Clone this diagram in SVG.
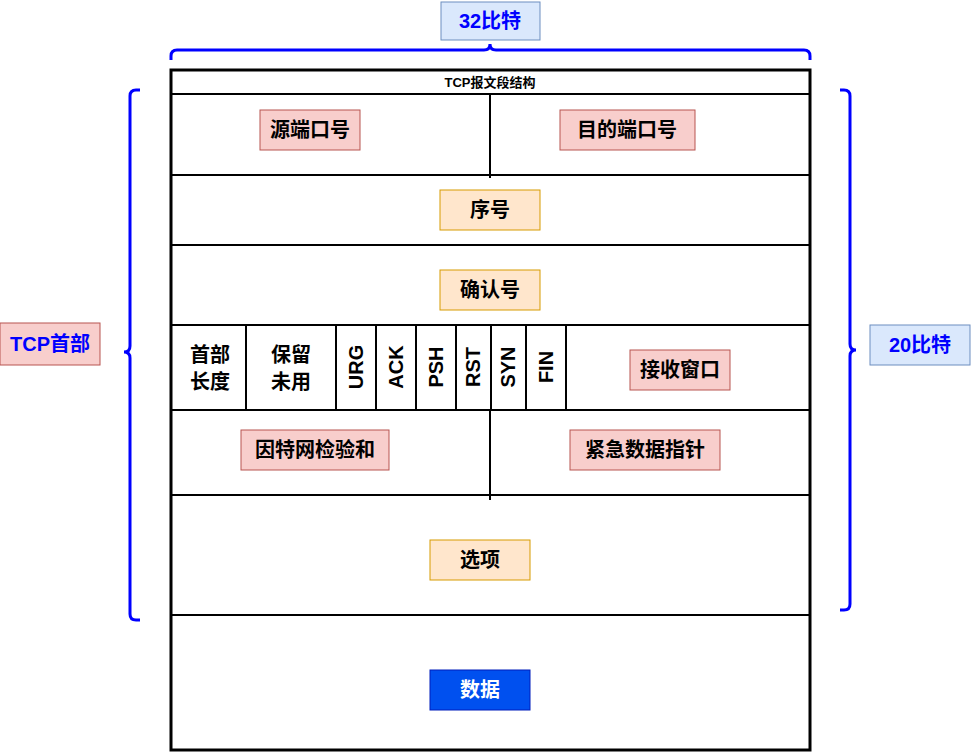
<svg xmlns="http://www.w3.org/2000/svg" width="971" height="752" viewBox="0 0 971 752">
<style>
text{font-family:"Liberation Sans","Noto Sans CJK SC",sans-serif;font-weight:bold;text-anchor:middle;dominant-baseline:central}
.l{font-size:20px;fill:#000}
.r{fill:#f8cecc;stroke:#b85450}
.o{fill:#ffe6cc;stroke:#d79b00}
.b{fill:#dae8fc;stroke:#6c8ebf}
.ln{stroke:#000;stroke-width:2;fill:none}
.br{stroke:#0000ff;stroke-width:3;fill:none}
.bl{font-size:20px;fill:#0000ff}
</style>
<rect width="971" height="752" fill="#fff"/>
<g id="frame">
<rect x="171" y="70" width="639" height="680" fill="#fff" stroke="#000" stroke-width="3"/>
<line class="ln" x1="171" y1="94" x2="810" y2="94" stroke-width="3"/>
<text x="490" y="82" font-size="13">TCP报文段结构</text>
<line class="ln" x1="171" y1="175" x2="810" y2="175"/>
<line class="ln" x1="171" y1="245" x2="810" y2="245"/>
<line class="ln" x1="171" y1="325" x2="810" y2="325"/>
<line class="ln" x1="171" y1="410" x2="810" y2="410"/>
<line class="ln" x1="171" y1="495" x2="810" y2="495"/>
<line class="ln" x1="171" y1="615" x2="810" y2="615"/>
<line class="ln" x1="490" y1="94" x2="490" y2="178"/>
<line class="ln" x1="490" y1="410" x2="490" y2="500"/>
<line class="ln" x1="246" y1="325" x2="246" y2="410"/>
<line class="ln" x1="336" y1="325" x2="336" y2="410"/>
<line class="ln" x1="376" y1="325" x2="376" y2="410"/>
<line class="ln" x1="416" y1="325" x2="416" y2="410"/>
<line class="ln" x1="456" y1="325" x2="456" y2="410"/>
<line class="ln" x1="491" y1="325" x2="491" y2="410"/>
<line class="ln" x1="526" y1="325" x2="526" y2="410"/>
<line class="ln" x1="566" y1="325" x2="566" y2="410"/>
</g>
<g id="flags">
<text class="l" x="210" y="355">首部</text><text class="l" x="210" y="382">长度</text>
<text class="l" x="291" y="355">保留</text><text class="l" x="291" y="382">未用</text>
<text class="l" transform="translate(356,367) rotate(-90)">URG</text>
<text class="l" transform="translate(396,367) rotate(-90)">ACK</text>
<text class="l" transform="translate(436,367) rotate(-90)">PSH</text>
<text class="l" transform="translate(473,367) rotate(-90)">RST</text>
<text class="l" transform="translate(508,367) rotate(-90)">SYN</text>
<text class="l" transform="translate(546,367) rotate(-90)">FIN</text>
</g>
<g id="src"><rect class="r" x="260" y="110" width="100" height="40"/><text class="l" x="310" y="130">源端口号</text></g>
<g id="dst"><rect class="r" x="560" y="110" width="135" height="40"/><text class="l" x="627" y="130">目的端口号</text></g>
<g id="seq"><rect class="o" x="440" y="190" width="100" height="40"/><text class="l" x="490" y="210">序号</text></g>
<g id="ack"><rect class="o" x="440" y="270" width="100" height="40"/><text class="l" x="490" y="290">确认号</text></g>
<g id="win"><rect class="r" x="630" y="350" width="100" height="40"/><text class="l" x="680" y="370">接收窗口</text></g>
<g id="chk"><rect class="r" x="241" y="430" width="148" height="40"/><text class="l" x="315" y="450">因特网检验和</text></g>
<g id="urg"><rect class="r" x="570" y="430" width="150" height="40"/><text class="l" x="645" y="450">紧急数据指针</text></g>
<g id="opt"><rect class="o" x="430" y="540" width="100" height="40"/><text class="l" x="480" y="560">选项</text></g>
<g id="data"><rect x="430" y="670" width="100" height="40" fill="#0050ef" stroke="#001dbc"/><text x="480" y="690" font-size="20" fill="#fff">数据</text></g>
<g id="bits32"><rect class="b" x="441" y="2" width="99" height="38"/><text class="bl" x="490" y="21">32比特</text></g>
<g id="hdr"><rect class="r" x="0" y="323" width="100" height="42"/><text class="bl" x="50" y="344">TCP首部</text></g>
<g id="bits20"><rect class="b" x="870" y="325" width="100" height="40"/><text class="bl" x="920" y="345">20比特</text></g>
<g id="braces">
<path class="br" d="M171,60 V56 Q171,50 177,50 H484 Q490,50 490,44 Q490,50 496,50 H804 Q810,50 810,56 V60"/>
<path class="br" d="M140,90 H136 Q130,90 130,96 V346 Q130,352 124,352 Q130,352 130,358 V614 Q130,620 136,620 H140"/>
<path class="br" d="M840,90 H844 Q850,90 850,96 V344 Q850,350 856,350 Q850,350 850,356 V604 Q850,610 844,610 H840"/>
</g>
</svg>
